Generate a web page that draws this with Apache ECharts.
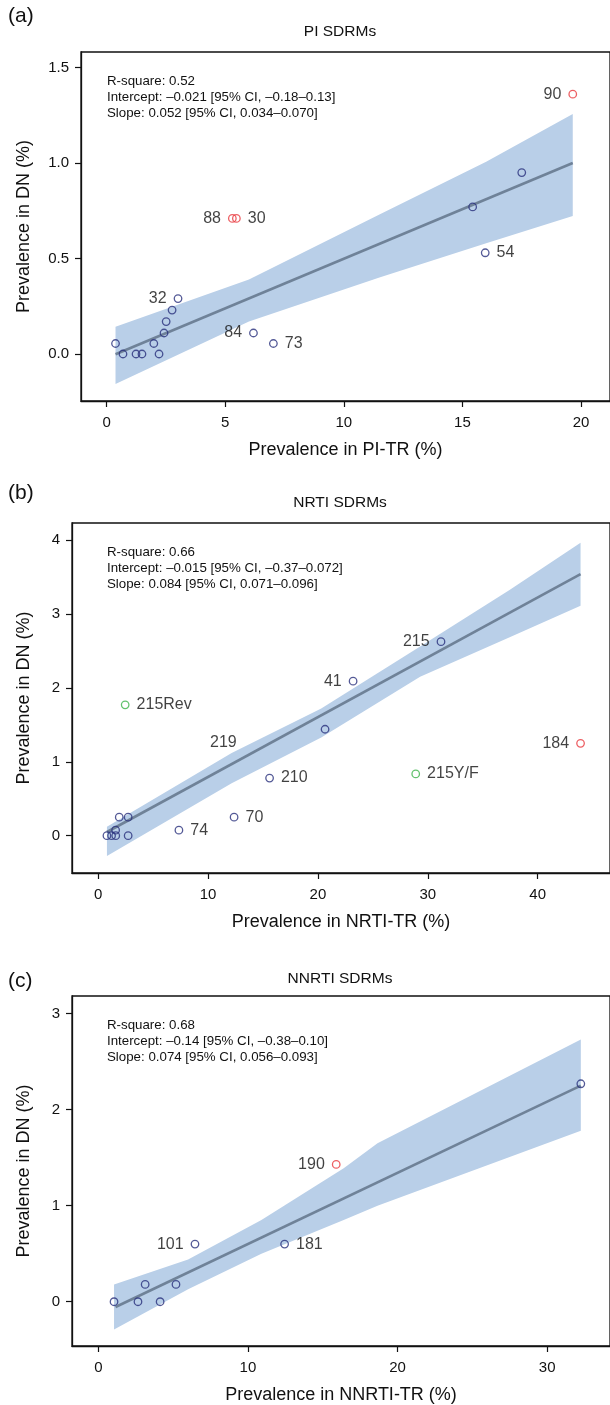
<!DOCTYPE html>
<html><head><meta charset="utf-8">
<script src="https://cdn.jsdelivr.net/npm/echarts@6/dist/echarts.min.js"></script>
<style>html,body{margin:0;padding:0;background:#fff}#c{width:610px;height:1405px}</style>
</head><body><div id="c"></div>
<script>
// ---------- DATA ----------
// Panel (a) PI SDRMs
const aX      = [0.375, 0.69, 1.24, 1.49, 1.99, 2.21, 2.42, 2.51, 2.76, 3.01, 6.19, 7.03, 15.43, 15.96, 17.5, 5.30, 5.47, 19.65];
const aY      = [0.055, 0, 0, 0, 0.055, 0, 0.11, 0.17, 0.23, 0.29, 0.11, 0.055, 0.77, 0.53, 0.95, 0.71, 0.71, 1.36];
const aLabels = ['', '', '', '', '', '', '', '', '', '32', '84', '73', '', '54', '', '88', '30', '90'];
const aGroup  = ['n','n','n','n','n','n','n','n','n','n','n','n','n','n','n','r','r','r'];
const aFitX   = [0.375, 19.65];
const aFitY   = [-0.001, 1.0];
const aBandX  = [0.375, 6.0, 11.5, 16.0, 19.65];
const aBandLo = [-0.157, 0.17, 0.40, 0.58, 0.723];
const aBandHi = [0.143, 0.39, 0.73, 1.007, 1.257];
const aXTicks = [0, 5, 10, 15, 20];
const aYTicks = [0, 0.5, 1.0, 1.5];
const aStats  = ['R-square: 0.52', 'Intercept: \u20130.021 [95% CI, \u20130.18\u20130.13]', 'Slope: 0.052 [95% CI, 0.034\u20130.070]'];

// Panel (b) NRTI SDRMs
const bX      = [0.80, 1.22, 1.60, 1.59, 2.73, 1.92, 2.73, 7.35, 12.37, 15.6, 20.65, 23.2, 31.2, 2.46, 28.9, 43.9];
const bY      = [0, 0, 0, 0.075, 0, 0.25, 0.25, 0.075, 0.25, 0.78, 1.44, 2.09, 2.625, 1.77, 0.835, 1.25];
const bLabels = ['', '', '', '', '', '', '', '74', '70', '210', '', '41', '215', '215Rev', '215Y/F', '184'];
const bGroup  = ['n','n','n','n','n','n','n','n','n','n','n','n','n','g','g','r'];
const bTextOnly = [[11.4, 1.26, '219']];
const bFitX   = [0.8, 43.9];
const bFitY   = [0.05, 3.54];
const bBandX  = [0.8, 12.15, 20.3, 29.3, 37.4, 43.9];
const bBandLo = [-0.275, 0.71, 1.33, 2.15, 2.68, 3.11];
const bBandHi = [0.12, 1.12, 1.72, 2.56, 3.32, 3.965];
const bXTicks = [0, 10, 20, 30, 40];
const bYTicks = [0, 1, 2, 3, 4];
const bStats  = ['R-square: 0.66', 'Intercept: \u20130.015 [95% CI, \u20130.37\u20130.072]', 'Slope: 0.084 [95% CI, 0.071\u20130.096]'];

// Panel (c) NNRTI SDRMs
const cX      = [1.05, 2.65, 4.13, 3.13, 5.19, 6.46, 12.45, 32.25, 15.9];
const cY      = [0, 0, 0, 0.18, 0.18, 0.60, 0.60, 2.27, 1.43];
const cLabels = ['', '', '', '', '', '101', '181', '', '190'];
const cGroup  = ['n','n','n','n','n','n','n','n','r'];
const cFitX   = [1.15, 32.25];
const cFitY   = [-0.055, 2.25];
const cBandX  = [1.05, 6.0, 10.9, 16.4, 18.66, 32.25];
const cBandLo = [-0.29, 0.13, 0.50, 0.85, 1.0, 1.78];
const cBandHi = [0.18, 0.44, 0.85, 1.39, 1.65, 2.73];
const cXTicks = [0, 10, 20, 30];
const cYTicks = [0, 1, 2, 3];
const cStats  = ['R-square: 0.68', 'Intercept: \u20130.14 [95% CI, \u20130.38\u20130.10]', 'Slope: 0.074 [95% CI, 0.056\u20130.093]'];

// ---------- STYLE / LAYOUT ----------
const FONT = '"Liberation Sans", Arial, Helvetica, sans-serif';
const COLORS = {n: '#28307c', r: '#e8383d', g: '#3cb34a'};
const BAND = '#b9cfe8';
const FIT = '#6f8298';
const INK = '#111';

const panels = [
  {tag:'(a)', title:'PI SDRMs', xName:'Prevalence in PI-TR (%)',
   X:aX, Y:aY, L:aLabels, G:aGroup, fitX:aFitX, fitY:aFitY, bx:aBandX, blo:aBandLo, bhi:aBandHi,
   xt:aXTicks, yt:aYTicks, stats:aStats, textOnly:[],
   grid:{left:81, top:52, width:534, height:349}, xr:[-1.08, 21.22], yr:[-0.246, 1.581], yfmt:v=>v.toFixed(1), yGap:48,
   side:{'32':'left','84':'left','73':'right','54':'right','88':'left','30':'right','90':'left'},
   tagY:16, titleY:32},
  {tag:'(b)', title:'NRTI SDRMs', xName:'Prevalence in NRTI-TR (%)',
   X:bX, Y:bY, L:bLabels, G:bGroup, fitX:bFitX, fitY:bFitY, bx:bBandX, blo:bBandLo, bhi:bBandHi,
   xt:bXTicks, yt:bYTicks, stats:bStats, textOnly:bTextOnly,
   grid:{left:72, top:523, width:543, height:350}, xr:[-2.38, 46.58], yr:[-0.505, 4.231], yfmt:v=>String(v), yGap:39,
   side:{'74':'right','70':'right','210':'right','41':'left','215':'left','215Rev':'right','215Y/F':'right','184':'left'},
   tagY:493, titleY:503},
  {tag:'(c)', title:'NNRTI SDRMs', xName:'Prevalence in NNRTI-TR (%)',
   X:cX, Y:cY, L:cLabels, G:cGroup, fitX:cFitX, fitY:cFitY, bx:cBandX, blo:cBandLo, bhi:cBandHi,
   xt:cXTicks, yt:cYTicks, stats:cStats, textOnly:[],
   grid:{left:72, top:996, width:543, height:350}, xr:[-1.76, 34.2], yr:[-0.461, 3.184], yfmt:v=>String(v), yGap:39,
   side:{'101':'left','181':'right','190':'left'},
   tagY:981, titleY:979}
];

const grid = [], xAxis = [], yAxis = [], series = [], graphic = [];
panels.forEach((p, i) => {
  grid.push(Object.assign({show:true, borderColor:INK, borderWidth:1.3, backgroundColor:'transparent', containLabel:false}, p.grid));
  xAxis.push({type:'value', gridIndex:i, min:p.xr[0], max:p.xr[1],
    axisLine:{show:true, onZero:false, lineStyle:{color:INK, width:1.3}},
    axisTick:{show:true, inside:false, length:6, customValues:p.xt, lineStyle:{color:INK, width:1.2}},
    axisLabel:{customValues:p.xt, fontFamily:FONT, fontSize:15, color:INK, margin:14},
    splitLine:{show:false},
    name:p.xName, nameLocation:'middle', nameGap:40, nameTextStyle:{fontFamily:FONT, fontSize:18, color:INK}});
  yAxis.push({type:'value', gridIndex:i, min:p.yr[0], max:p.yr[1],
    axisLine:{show:true, onZero:false, lineStyle:{color:INK, width:1.3}},
    axisTick:{show:true, inside:false, length:6, customValues:p.yt, lineStyle:{color:INK, width:1.2}},
    axisLabel:{customValues:p.yt, formatter:p.yfmt, fontFamily:FONT, fontSize:15, color:INK, margin:12},
    splitLine:{show:false},
    name:'Prevalence in DN (%)', nameLocation:'middle', nameGap:p.yGap, nameRotate:90,
    nameTextStyle:{fontFamily:FONT, fontSize:18, color:INK}});

  const band = p.bx.map((x, k) => [x, p.blo[k], p.bhi[k]]);
  series.push({type:'custom', xAxisIndex:i, yAxisIndex:i, silent:true, z:1, clip:false,
    data:[[p.bx[0], p.blo[0]]],
    renderItem:(params, api) => {
      const pts = [];
      band.forEach(r => pts.push(api.coord([r[0], r[2]])));
      band.slice().reverse().forEach(r => pts.push(api.coord([r[0], r[1]])));
      return {type:'polygon', shape:{points:pts}, style:{fill:BAND}};
    }});
  series.push({type:'line', xAxisIndex:i, yAxisIndex:i, z:2, silent:true, symbol:'none',
    data:p.fitX.map((x, k) => [x, p.fitY[k]]), lineStyle:{color:FIT, width:2.6}});
  series.push({type:'scatter', xAxisIndex:i, yAxisIndex:i, z:3, symbol:'circle', symbolSize:7.5,
    data:p.X.map((x, k) => ({
      value:[x, p.Y[k]],
      itemStyle:{color:'rgba(0,0,0,0)', borderColor:COLORS[p.G[k]], borderWidth:1.3},
      label:{show:p.L[k] !== '', formatter:p.L[k], position:p.side[p.L[k]] || 'right', distance:7,
             fontFamily:FONT, fontSize:16, color:INK}
    }))});
  if (p.textOnly.length) {
    series.push({type:'scatter', xAxisIndex:i, yAxisIndex:i, z:3, symbolSize:0,
      data:p.textOnly.map(t => ({value:[t[0], t[1]],
        label:{show:true, formatter:t[2], position:'inside', fontFamily:FONT, fontSize:16, color:INK}}))});
  }
  graphic.push({type:'text', x:8, y:p.tagY,
    style:{text:p.tag, font:'21px ' + FONT, fill:INK, textVerticalAlign:'middle'}});
  graphic.push({type:'text', x:340, y:p.titleY,
    style:{text:p.title, font:'15.5px ' + FONT, fill:INK, textAlign:'center', textVerticalAlign:'middle'}});
  graphic.push({type:'text', x:107, y:p.grid.top + 21, z:10,
    style:{text:p.stats.join('\n'), font:'13.3px ' + FONT, lineHeight:16, fill:INK, textVerticalAlign:'top'}});
});

const chart = echarts.init(document.getElementById('c'), null, {renderer:'canvas', width:610, height:1405});
chart.setOption({animation:false, backgroundColor:'#fff', grid, xAxis, yAxis, series, graphic});
</script></body></html>
